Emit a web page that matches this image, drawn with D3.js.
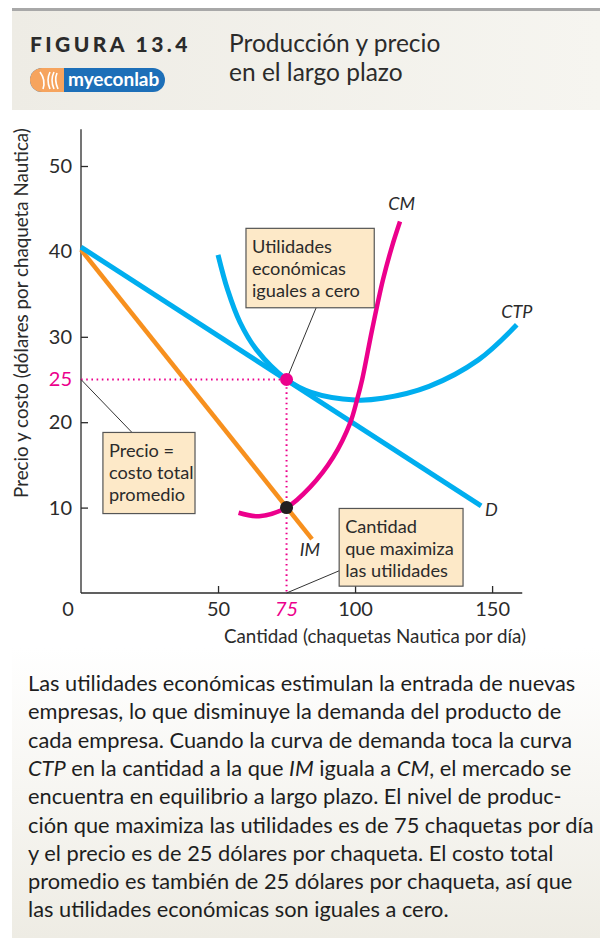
<!DOCTYPE html>
<html>
<head>
<meta charset="utf-8">
<script src="https://cdn.jsdelivr.net/npm/d3@7"></script>
<style>
  body { margin: 0; background: #fff; }
  svg { display: block; font-family: Lato, "Open Sans", sans-serif; }
</style>
</head>
<body>
<svg id="chart" width="600" height="939"></svg>
<script>
// values (quantity = chaquetas por dia, price = dolares)
var demandQ = [0, 146],   demandP = [40.5, 10.2];
var imQ     = [0, 84.3],  imP     = [40.2, 6.3];
var ctpQ = [50, 53.5, 58, 64, 75, 84, 100, 110, 127, 145, 159];
var ctpP = [39.6, 35.5, 31.7, 28.5, 25, 23.5, 22.6, 22.8, 24.2, 27.3, 31.4];
var cmQ  = [57.5, 65, 75, 83.6, 92, 98.2, 100.7, 102.6, 106.2, 110.2, 113.5, 116.4];
var cmP  = [9.4, 9.0, 10, 12.4, 15.9, 19.9, 22.6, 25, 30.8, 36.7, 40.6, 43.5];
var xTicks = [50, 100, 150];
var yTicks = [10, 20, 30, 40, 50];
var eqQ = 75, eqP = 25, imAtEq = 10;

var bodyLines = [
  "Las utilidades económicas estimulan la entrada de nuevas",
  "empresas, lo que disminuye la demanda del producto de",
  "cada empresa. Cuando la curva de demanda toca la curva",
  ["CTP", " en la cantidad a la que ", "IM", " iguala a ", "CM", ", el mercado se"],
  "encuentra en equilibrio a largo plazo. El nivel de produc-",
  "ción que maximiza las utilidades es de 75 chaquetas por día",
  "y el precio es de 25 dólares por chaqueta. El costo total",
  "promedio es también de 25 dólares por chaqueta, así que",
  "las utilidades económicas son iguales a cero."
];

var blue = "#00aeef", pink = "#ec008c", orange = "#f7901e", ink = "#2b2b2b";

var svg = d3.select("#chart");
var defs = svg.append("defs");

var hg = defs.append("linearGradient").attr("id", "hdr").attr("x1", 0).attr("x2", 1);
hg.append("stop").attr("offset", 0).attr("stop-color", "#eeece5");
hg.append("stop").attr("offset", 1).attr("stop-color", "#f6f5f0");
var bg = defs.append("linearGradient").attr("id", "foot").attr("x1", 0).attr("x2", 0).attr("y1", 0).attr("y2", 1);
bg.append("stop").attr("offset", 0).attr("stop-color", "#ffffff");
bg.append("stop").attr("offset", 1).attr("stop-color", "#eeece4");

// header
svg.append("rect").attr("x", 12).attr("y", 8).attr("width", 588).attr("height", 3).attr("fill", "#a8a8a8");
svg.append("rect").attr("x", 12).attr("y", 11).attr("width", 588).attr("height", 99).attr("fill", "url(#hdr)");
svg.append("text").attr("x", 30).attr("y", 52)
  .style("font-size", "21px").style("font-weight", 900).style("letter-spacing", "3.4px")
  .attr("fill", ink).text("FIGURA 13.4");
svg.append("text").attr("x", 229).attr("y", 52).style("font-size", "24.5px").attr("fill", ink).text("Producción y precio");
svg.append("text").attr("x", 229).attr("y", 81).style("font-size", "24.5px").attr("fill", ink).text("en el largo plazo");

// myeconlab badge
var logo = svg.append("g").attr("transform", "translate(30,68)");
logo.append("rect").attr("width", 135).attr("height", 24).attr("rx", 12).attr("fill", "#1d6fb8");
logo.append("path").attr("d", "M12,0 H34 V24 H12 A12,12 0 0 1 12,0 Z").attr("fill", "#f6a45e");
logo.append("path").attr("d", "M10,4 Q16,12 13,21 M20,4 Q16,12 20,21 M24,4 Q20,12 24,21 M27,5 Q24,12 28,21")
  .attr("stroke", "#fff").attr("stroke-width", 1.6).attr("fill", "none");
logo.append("text").attr("x", 38).attr("y", 18).style("font-size", "19px").style("font-weight", 700)
  .attr("fill", "#fff").text("myeconlab");

// footer panel
svg.append("rect").attr("x", 12).attr("y", 648).attr("width", 588).attr("height", 290).attr("fill", "url(#foot)");

// scales
var x = d3.scaleLinear().domain([0, 160]).range([81, 519.5]);
var y = d3.scaleLinear().domain([0, 50]).range([593, 166]);

var g = svg.append("g");

// axes
g.append("line").attr("x1", x(0)).attr("x2", x(0)).attr("y1", y(54.3)).attr("y2", y(0)).attr("stroke", ink).attr("stroke-width", 1.3);
g.append("line").attr("x1", x(0)).attr("x2", x(161)).attr("y1", y(0)).attr("y2", y(0)).attr("stroke", ink).attr("stroke-width", 1.3);

var yAxis = g.append("g").attr("transform", "translate(" + x(0) + ",0)")
  .call(d3.axisLeft(y).tickValues(yTicks).tickSize(-7).tickPadding(9).tickSizeOuter(0));
var xAxis = g.append("g").attr("transform", "translate(0," + y(0) + ")")
  .call(d3.axisBottom(x).tickValues(xTicks).tickSize(-7).tickPadding(9).tickSizeOuter(0));
[yAxis, xAxis].forEach(function(a) {
  a.select(".domain").remove();
  a.selectAll("line").attr("stroke", ink).attr("stroke-width", 1.3);
  a.selectAll("text").style("font-size", "20px").style("font-family", "Lato, sans-serif").attr("fill", ink);
});
g.append("text").attr("x", x(0) - 13).attr("y", y(0) + 23).attr("text-anchor", "middle")
  .style("font-size", "20px").attr("fill", ink).text("0");
g.append("text").attr("x", x(0) - 9).attr("y", y(eqP)).attr("dy", "0.34em").attr("text-anchor", "end")
  .style("font-size", "20px").attr("fill", pink).text(eqP);
g.append("text").attr("x", x(eqQ)).attr("y", y(0) + 23).attr("text-anchor", "middle")
  .style("font-size", "20px").style("font-style", "italic").attr("fill", pink).text(eqQ);

// axis titles
g.append("text").attr("x", 375).attr("y", 643).attr("text-anchor", "middle")
  .style("font-size", "18.8px").attr("fill", ink).text("Cantidad (chaquetas Nautica por día)");
g.append("text").attr("transform", "translate(28,313) rotate(-90)").attr("text-anchor", "middle")
  .style("font-size", "18.8px").attr("fill", ink).text("Precio y costo (dólares por chaqueta Nautica)");

// dotted guides
g.append("path")
  .attr("d", d3.line()([[x(0), y(eqP)], [x(eqQ), y(eqP)], [x(eqQ), y(0)]]))
  .attr("fill", "none").attr("stroke", pink).attr("stroke-width", 2)
  .attr("stroke-dasharray", "1.6,3.6");

// curves
var line = d3.line().x(function(d) { return x(d[0]); }).y(function(d) { return y(d[1]); });
var smooth = d3.line().x(function(d) { return x(d[0]); }).y(function(d) { return y(d[1]); })
  .curve(d3.curveCatmullRom.alpha(0.5));
function pts(qs, ps) { return qs.map(function(q, i) { return [q, ps[i]]; }); }

g.append("path").attr("d", line(pts(imQ, imP))).attr("fill", "none").attr("stroke", orange).attr("stroke-width", 4.5);
g.append("path").attr("d", line(pts(demandQ, demandP))).attr("fill", "none").attr("stroke", blue).attr("stroke-width", 5);
g.append("path").attr("d", smooth(pts(ctpQ, ctpP))).attr("fill", "none").attr("stroke", blue).attr("stroke-width", 5);
g.append("path").attr("d", smooth(pts(cmQ, cmP))).attr("fill", "none").attr("stroke", pink).attr("stroke-width", 4.5);

// curve labels
function curveLabel(q, p, t, anchor) {
  g.append("text").attr("x", x(q)).attr("y", y(p)).attr("text-anchor", anchor || "middle")
    .style("font-size", "18px").style("font-style", "italic").attr("fill", ink).text(t);
}
curveLabel(117, 44.9, "CM");
curveLabel(159, 32.2, "CTP");
curveLabel(147.4, 9.0, "D", "start");
curveLabel(83.5, 4.3, "IM");

// callouts: leader line, box, text (positions in data units)
var callouts = [
  { from: [eqQ, eqP], to: [85.8, 33.4], box: [60.2, 42.7, 107, 33.4],
    lines: ["Utilidades", "económicas", "iguales a cero"] },
  { from: [0, eqP], to: [18.6, 18.8], box: [8, 18.8, 41.6, 9.3],
    lines: ["Precio =", "costo total", "promedio"] },
  { from: [eqQ, 0], to: [94.2, 2.6], box: [94.2, 9.9, 139.4, 0.8],
    lines: ["Cantidad", "que maximiza", "las utilidades"] }
];
callouts.forEach(function(c) {
  g.append("line").attr("x1", x(c.from[0])).attr("y1", y(c.from[1]))
    .attr("x2", x(c.to[0])).attr("y2", y(c.to[1])).attr("stroke", "#333").attr("stroke-width", 1);
  var bx = x(c.box[0]), by = y(c.box[1]), bw = x(c.box[2]) - bx, bh = y(c.box[3]) - by;
  g.append("rect").attr("x", bx).attr("y", by).attr("width", bw).attr("height", bh)
    .attr("fill", "#fde9c8").attr("stroke", "#555").attr("stroke-width", 1.2);
  c.lines.forEach(function(t, i) {
    g.append("text").attr("x", bx + 6).attr("y", by + 25 + i * 22)
      .style("font-size", "18.2px").attr("fill", ink).text(t);
  });
});

// equilibrium points
g.append("circle").attr("cx", x(eqQ)).attr("cy", y(eqP)).attr("r", 6.5).attr("fill", pink);
g.append("circle").attr("cx", x(eqQ)).attr("cy", y(imAtEq)).attr("r", 6.5).attr("fill", "#231f20");

// caption
var cap = svg.append("g");
bodyLines.forEach(function(l, i) {
  var t = cap.append("text").attr("x", 28).attr("y", 691 + i * 28.3)
    .style("font-size", "21.8px").attr("fill", "#1e1e1e");
  if (typeof l === "string") { t.text(l); return; }
  l.forEach(function(part, j) {
    t.append("tspan").style("font-style", j % 2 === 0 && j < 5 ? "italic" : "normal").text(part);
  });
});
</script>
</body>
</html>
